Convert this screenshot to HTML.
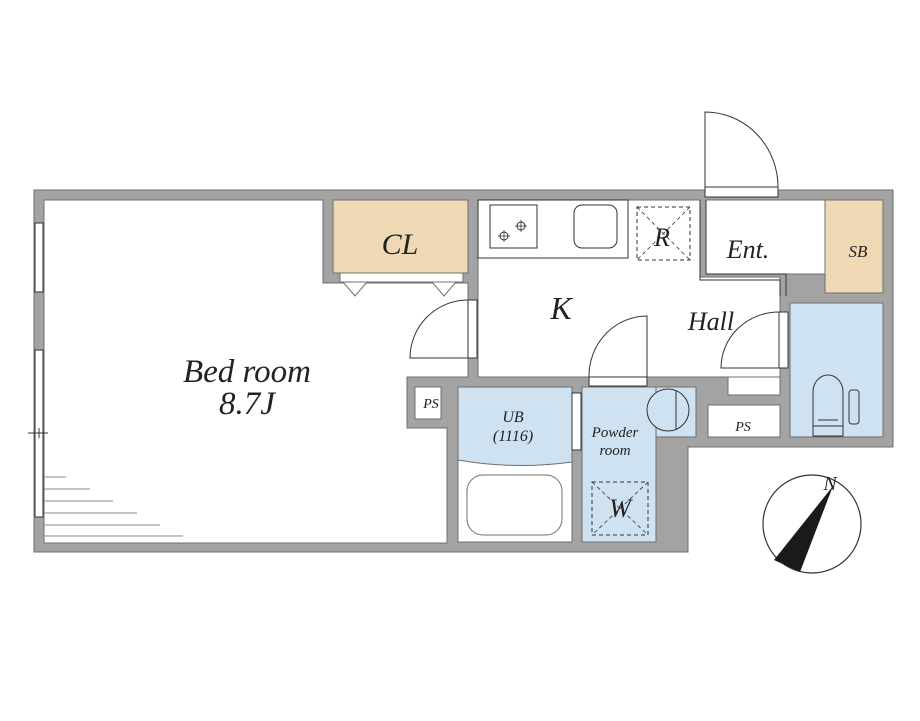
<!DOCTYPE html>
<html><head><meta charset="utf-8"><style>html,body{margin:0;padding:0;background:#fff}svg{display:block}text{font-family:"Liberation Serif",serif;font-style:italic;fill:#222}</style></head><body>
<svg width="920" height="721" viewBox="0 0 920 721" xmlns="http://www.w3.org/2000/svg">
<g stroke="#6f6f6f" stroke-width="1">
<polygon points="34,190 893,190 893,447 688,447 688,552 34,552" fill="#a3a3a3"/>
<polygon points="44,200 323,200 323,283 468,283 468,377 407,377 407,428 447,428 447,543 44,543" fill="#fff"/>
<rect x="333" y="200" width="135" height="73" fill="#efd9b4"/>
<rect x="340" y="273" width="123" height="9" fill="#fff"/>
<polygon points="343,282 367,282 355,296" fill="#fff"/>
<polygon points="432,282 456,282 444,296" fill="#fff"/>
<rect x="415" y="387" width="26" height="32" fill="#fff"/>
<polygon points="478,200 700,200 700,277 780,277 780,377 478,377" fill="#fff"/>
<rect x="728" y="377" width="52" height="18" fill="#fff"/>
<rect x="706" y="200" width="119" height="74" fill="#fff"/>
<rect x="825" y="200" width="58" height="93" fill="#efd9b4"/>
<rect x="790" y="303" width="93" height="134" fill="#cfe2f2"/>
<rect x="708" y="405" width="72" height="32" fill="#fff"/>
<rect x="458" y="387" width="114" height="155" fill="#fff"/>
<path d="M458,387 H572 V462 Q515,470 458,460 Z" fill="#cfe2f2"/>
<rect x="467" y="475" width="95" height="60" rx="16" fill="#fff"/>
<rect x="582" y="387" width="74" height="155" fill="#cfe2f2"/>
<rect x="656" y="387" width="40" height="50" fill="#cfe2f2"/>
</g>
<g fill="none" stroke="#333" stroke-width="1">
<rect x="478" y="200" width="150" height="58" fill="#fff"/>
<rect x="490" y="205" width="47" height="43"/>
<circle cx="504" cy="236" r="4"/><circle cx="521" cy="226" r="4"/>
<path d="M498,236h12M504,230v12M515,226h12M521,220v12" stroke-width="0.8"/>
<rect x="574" y="205" width="43" height="43" rx="8"/>
<rect x="637" y="207" width="53" height="53" stroke-dasharray="4,3"/>
<path d="M637,207L690,260M690,207L637,260" stroke-dasharray="4,3" stroke-width="0.8"/>
<rect x="592" y="482" width="56" height="53" stroke-dasharray="4,3"/>
<path d="M592,482L648,535M648,482L592,535" stroke-dasharray="4,3" stroke-width="0.8"/>
<path d="M700,200V280H780V296M706,200V274H786V296" stroke-width="1"/>
<rect x="35" y="223" width="8" height="69" fill="#fff"/>
<rect x="35" y="350" width="8" height="167" fill="#fff"/>
<path d="M28,433H48M39,428v10"/>
<path d="M44,477H66M44,489H90M44,501H113M44,513H137M44,525H160M44,536H183" stroke="#888"/>
<rect x="705" y="187" width="73" height="10" fill="#fff"/>
<path d="M705,187V112A73,75 0 0 1 778,187"/>
<rect x="468" y="300" width="9" height="58" fill="#fff"/>
<path d="M468,300A58,58 0 0 0 410,358H468"/>
<rect x="589" y="377" width="58" height="9" fill="#fff"/>
<path d="M647,377V316A58,60 0 0 0 589,377"/>
<rect x="779" y="312" width="9" height="56" fill="#fff"/>
<path d="M779,312A58,56 0 0 0 721,368H779"/>
<rect x="572" y="393" width="9" height="57" fill="#fff"/>
<circle cx="668" cy="410" r="21" fill="#cfe2f2"/>
<path d="M676,391V429"/>
<path d="M813,436V392A15,17 0 0 1 843,392V436Z" fill="#cfe2f2"/>
<path d="M813,426H843M818,420H838"/>
<rect x="849" y="390" width="10" height="34" rx="3"/>
<circle cx="812" cy="524" r="49" fill="#fff" stroke-width="1.2"/>
</g>
<polygon points="833,486 774,560 800,572" fill="#1a1a1a"/>
<text x="247" y="382" font-size="33" text-anchor="middle">Bed room</text>
<text x="247" y="414" font-size="33" text-anchor="middle">8.7J</text>
<text x="400" y="254" font-size="30" text-anchor="middle">CL</text>
<text x="561" y="319" font-size="32" text-anchor="middle">K</text>
<text x="711" y="330" font-size="26" text-anchor="middle">Hall</text>
<text x="748" y="258" font-size="26" text-anchor="middle">Ent.</text>
<text x="858" y="257" font-size="17" text-anchor="middle">SB</text>
<text x="662" y="246" font-size="26" text-anchor="middle">R</text>
<text x="620" y="517" font-size="26" text-anchor="middle">W</text>
<text x="431" y="408" font-size="14" text-anchor="middle">PS</text>
<text x="743" y="431" font-size="14" text-anchor="middle">PS</text>
<text x="513" y="422" font-size="16" text-anchor="middle">UB</text>
<text x="513" y="441" font-size="16" text-anchor="middle">(1116)</text>
<text x="615" y="437" font-size="15" text-anchor="middle">Powder</text>
<text x="615" y="455" font-size="15" text-anchor="middle">room</text>
<text x="830" y="490" font-size="20" text-anchor="middle">N</text>
</svg>
</body></html>
